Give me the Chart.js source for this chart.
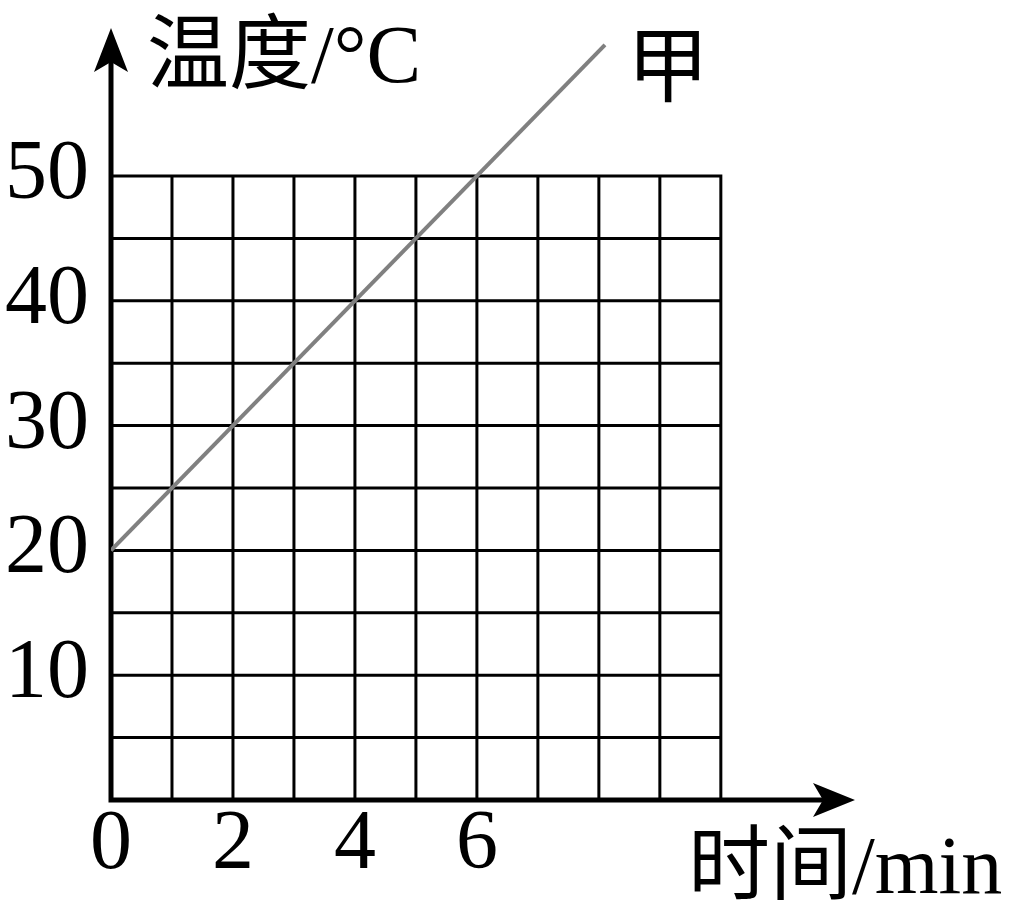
<!DOCTYPE html>
<html>
<head>
<meta charset="utf-8">
<script src="https://cdn.jsdelivr.net/npm/chart.js@4/dist/chart.umd.min.js"></script>
<style>
  body { margin: 0; background: #fff; }
  #wrap { width: 1015px; height: 905px; }
</style>
</head>
<body>
<div id="wrap"><canvas id="tempChart"></canvas></div>
<script>
// tick labels shown on the axes
const timeTicks = [0, 2, 4, 6];
const tempTicks = [10, 20, 30, 40, 50];

// grid cells: 1 min wide, 5 °C high
const gridTimes = [0, 1, 2, 3, 4, 5, 6, 7, 8, 9, 10];
const gridTemps = [0, 5, 10, 15, 20, 25, 30, 35, 40, 45, 50];

// line "甲"
const jiaTime = [0, 8.1];
const jiaTemp = [20, 60.5];

const SERIF = '"Liberation Serif", "Noto Sans CJK SC", serif';

// grid, axes with arrows, and the text labels
const paperPlugin = {
  id: "paper",
  beforeDatasetsDraw(chart) {
    const ctx = chart.ctx;
    const xs = chart.scales.x, ys = chart.scales.y;
    const area = chart.chartArea;
    const x0 = xs.getPixelForValue(0), y0 = ys.getPixelForValue(0);
    const xEnd = xs.getPixelForValue(gridTimes[gridTimes.length - 1]);
    const yEnd = ys.getPixelForValue(gridTemps[gridTemps.length - 1]);

    ctx.save();
    ctx.strokeStyle = "#000";
    ctx.lineWidth = 3;
    ctx.beginPath();
    gridTimes.forEach(t => {
      const px = xs.getPixelForValue(t);
      ctx.moveTo(px, y0);
      ctx.lineTo(px, yEnd - 1.5);
    });
    gridTemps.forEach(v => {
      const py = ys.getPixelForValue(v);
      ctx.moveTo(x0, py);
      ctx.lineTo(xEnd + 1.5, py);
    });
    ctx.stroke();

    // axes
    ctx.lineWidth = 5;
    ctx.beginPath();
    ctx.moveTo(x0, y0 + 2.5);
    ctx.lineTo(x0, area.top + 20);
    ctx.moveTo(x0 - 2.5, y0);
    ctx.lineTo(area.right - 20, y0);
    ctx.stroke();

    ctx.fillStyle = "#000";
    ctx.beginPath();
    ctx.moveTo(x0, area.top - 2);
    ctx.lineTo(x0 - 17, area.top + 42);
    ctx.lineTo(x0, area.top + 32);
    ctx.lineTo(x0 + 17, area.top + 42);
    ctx.closePath();
    ctx.fill();
    ctx.beginPath();
    ctx.moveTo(area.right, y0);
    ctx.lineTo(area.right - 42, y0 - 17);
    ctx.lineTo(area.right - 32, y0);
    ctx.lineTo(area.right - 42, y0 + 17);
    ctx.closePath();
    ctx.fill();
    ctx.restore();
  },
  afterDraw(chart) {
    const ctx = chart.ctx;
    const area = chart.chartArea;
    const xs = chart.scales.x, ys = chart.scales.y;
    const last = jiaTime.length - 1;
    ctx.save();
    ctx.fillStyle = "#000";
    ctx.font = "82px " + SERIF;
    ctx.textBaseline = "alphabetic";
    ctx.textAlign = "left";
    ctx.fillText("温度/°C", area.left + 36, area.top + 52);
    ctx.fillText("时间/min", area.right - 167, area.bottom + 93);
    ctx.fillText("甲", xs.getPixelForValue(jiaTime[last]) + 22,
                 ys.getPixelForValue(jiaTemp[last]) + 50);
    ctx.restore();
  }
};

new Chart(document.getElementById("tempChart"), {
  type: "scatter",
  data: {
    datasets: [{
      label: "甲",
      data: jiaTime.map((t, i) => ({ x: t, y: jiaTemp[i] })),
      showLine: true,
      borderColor: "#808080",
      borderWidth: 4,
      pointRadius: 0
    }]
  },
  options: {
    responsive: true,
    maintainAspectRatio: false,
    animation: false,
    layout: { padding: { top: 30, right: 160, left: 0, bottom: 0 } },
    plugins: { legend: { display: false }, tooltip: { enabled: false } },
    scales: {
      x: {
        type: "linear",
        min: 0,
        max: 12.2,
        grid: { display: false },
        border: { display: false },
        afterBuildTicks: s => { s.ticks = timeTicks.map(v => ({ value: v })); },
        afterFit: s => {
          s.height = 105;
          s.paddingLeft = 0;
          s.paddingRight = 0;
        },
        ticks: {
          color: "#000",
          font: { family: SERIF, size: 84 },
          padding: -12,
          maxRotation: 0,
          autoSkip: false
        }
      },
      y: {
        type: "linear",
        min: 0,
        max: 61.7,
        grid: { display: false },
        border: { display: false },
        afterBuildTicks: s => { s.ticks = tempTicks.map(v => ({ value: v })); },
        afterFit: s => {
          s.width = 111;
          s.paddingTop = 0;
          s.paddingBottom = 0;
        },
        ticks: {
          color: "#000",
          font: { family: SERIF, size: 84 },
          padding: 14,
          autoSkip: false
        }
      }
    }
  },
  plugins: [paperPlugin]
});
</script>
</body>
</html>
